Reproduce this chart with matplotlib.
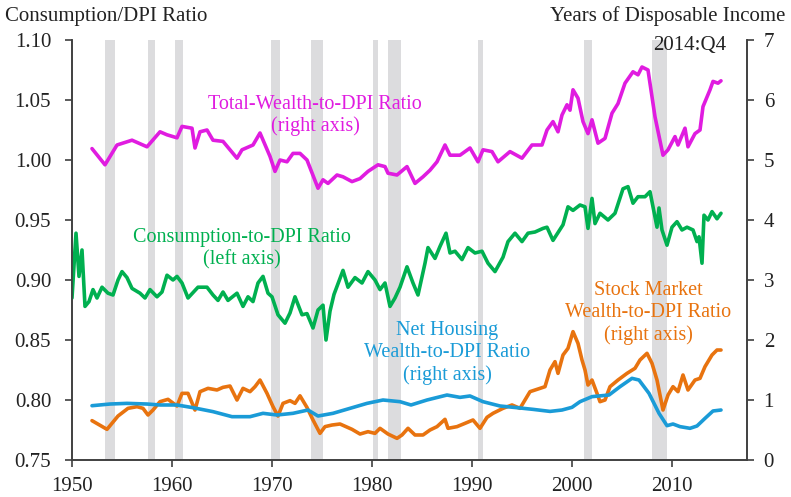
import matplotlib
matplotlib.use("Agg")
from matplotlib import pyplot as plt

plt.rcParams['font.family'] = ['Liberation Serif', 'DejaVu Serif']

# Recession periods (start, end) in fractional years
recessions = [(1953.3, 1954.3), (1957.6, 1958.3), (1960.3, 1961.1), (1969.9, 1970.8),
              (1973.9, 1975.1), (1980.1, 1980.6), (1981.6, 1982.9), (1990.6, 1991.1),
              (2001.2, 2002.0), (2008.0, 2009.5)]

# Consumption-to-DPI ratio (left axis)
cons_years = [1950.0, 1950.4, 1950.7, 1951.0, 1951.3, 1951.7, 1952.1, 1952.5, 1953.0, 1953.6,
              1954.1, 1954.6, 1955.0, 1955.5, 1956.0, 1956.8, 1957.3, 1957.8, 1958.5, 1959.0,
              1959.5, 1960.1, 1960.5, 1961.0, 1961.6, 1962.6, 1963.5, 1964.1, 1964.6, 1965.1,
              1965.6, 1966.5, 1967.1, 1967.6, 1968.1, 1968.6, 1969.1, 1969.6, 1970.0, 1970.6,
              1971.3, 1971.8, 1972.3, 1973.0, 1973.5, 1974.1, 1974.6, 1975.1, 1975.4, 1975.8,
              1976.2, 1977.1, 1977.6, 1978.3, 1979.0, 1979.6, 1980.3, 1980.8, 1981.3, 1981.8,
              1982.3, 1982.8, 1983.5, 1984.1, 1984.6, 1985.3, 1985.6, 1986.3, 1986.8, 1987.4,
              1987.8, 1988.3, 1989.0, 1989.6, 1990.3, 1991.0, 1991.6, 1992.3, 1993.1, 1993.6,
              1994.3, 1995.0, 1995.6, 1996.3, 1997.1, 1997.5, 1998.1, 1999.1, 1999.6, 2000.1,
              2000.8, 2001.3, 2001.6, 2002.0, 2002.3, 2002.8, 2003.6, 2004.3, 2005.1, 2005.6,
              2006.1, 2006.6, 2007.3, 2007.8, 2008.1, 2008.5, 2008.7, 2009.0, 2009.5, 2010.0,
              2010.5, 2011.0, 2011.5, 2012.1, 2012.5, 2012.7, 2013.0, 2013.2, 2013.6, 2014.0,
              2014.5, 2014.9]
cons_vals = [0.885, 0.939, 0.903, 0.925, 0.878, 0.882, 0.892, 0.885, 0.894, 0.889,
             0.8875, 0.900, 0.907, 0.902, 0.893, 0.889, 0.885, 0.892, 0.886, 0.890,
             0.904, 0.900, 0.903, 0.8975, 0.885, 0.894, 0.894, 0.8875, 0.883, 0.890,
             0.883, 0.889, 0.878, 0.886, 0.882, 0.8975, 0.903, 0.889, 0.886, 0.871,
             0.864, 0.8725, 0.886, 0.871, 0.872, 0.860, 0.875, 0.879, 0.850, 0.874,
             0.888, 0.908, 0.894, 0.902, 0.8975, 0.907, 0.900, 0.892, 0.8975, 0.878,
             0.885, 0.894, 0.911, 0.8975, 0.8875, 0.914, 0.927, 0.918, 0.928, 0.939,
             0.9225, 0.924, 0.917, 0.927, 0.9225, 0.924, 0.914, 0.907, 0.919, 0.932,
             0.939, 0.932, 0.939, 0.940, 0.943, 0.944, 0.933, 0.946, 0.961, 0.958,
             0.9625, 0.961, 0.943, 0.968, 0.947, 0.9556, 0.950, 0.9556, 0.976, 0.9778,
             0.964, 0.9694, 0.9694, 0.9736, 0.961, 0.944, 0.960, 0.9417, 0.929, 0.944,
             0.9486, 0.9417, 0.944, 0.9417, 0.932, 0.936, 0.914, 0.954, 0.950, 0.957,
             0.951, 0.9556]

# Total wealth-to-DPI ratio (right axis)
tw_years = [1952.0, 1953.3, 1954.5, 1956.0, 1957.5, 1958.8, 1959.5, 1960.5, 1961.0, 1962.0,
            1962.3, 1962.8, 1963.5, 1964.1, 1965.1, 1966.5, 1967.0, 1968.1, 1968.8, 1969.8,
            1970.3, 1970.8, 1971.5, 1972.1, 1972.8, 1973.5, 1974.6, 1975.1, 1975.6, 1976.5,
            1977.1, 1978.0, 1978.8, 1979.6, 1980.6, 1981.3, 1981.6, 1982.5, 1983.5, 1984.3,
            1985.1, 1985.8, 1986.5, 1987.3, 1987.8, 1988.8, 1989.8, 1990.6, 1991.1, 1992.0,
            1992.6, 1993.8, 1995.0, 1996.0, 1997.0, 1997.5, 1998.1, 1998.6, 1999.0, 1999.5,
            1999.8, 2000.1, 2000.6, 2001.1, 2001.6, 2002.0, 2002.6, 2003.3, 2004.0, 2004.6,
            2005.3, 2006.1, 2006.6, 2007.0, 2007.6, 2008.3, 2009.1, 2009.6, 2010.3, 2010.6,
            2011.3, 2011.6, 2012.3, 2012.8, 2013.1, 2013.8, 2014.1, 2014.6, 2014.9]
tw_vals = [5.19, 4.92, 5.25, 5.33, 5.22, 5.47, 5.42, 5.37, 5.56, 5.53,
           5.20, 5.47, 5.50, 5.33, 5.31, 5.03, 5.17, 5.25, 5.45, 5.06,
           4.81, 5.00, 4.97, 5.11, 5.11, 5.00, 4.53, 4.67, 4.61, 4.75,
           4.72, 4.64, 4.69, 4.81, 4.92, 4.89, 4.78, 4.75, 4.89, 4.61,
           4.72, 4.83, 4.97, 5.25, 5.08, 5.08, 5.20, 4.97, 5.17, 5.14,
           4.97, 5.14, 5.03, 5.25, 5.25, 5.50, 5.64, 5.47, 5.75, 5.92,
           5.83, 6.17, 6.03, 5.64, 5.44, 5.67, 5.28, 5.36, 5.78, 5.94,
           6.28, 6.47, 6.42, 6.55, 6.50, 5.72, 5.08, 5.17, 5.39, 5.25,
           5.53, 5.22, 5.44, 5.50, 5.89, 6.17, 6.31, 6.28, 6.32]

# Net housing wealth-to-DPI ratio (right axis)
house_years = [1952.0, 1953.8, 1955.5, 1957.5, 1958.8, 1960.5, 1962.1, 1964.1, 1966.0, 1967.8,
               1969.1, 1970.5, 1972.1, 1973.6, 1974.6, 1976.1, 1977.8, 1979.5, 1981.1, 1982.8,
               1983.9, 1985.5, 1987.5, 1988.8, 1989.8, 1991.1, 1992.8, 1994.5, 1996.1, 1997.8,
               1999.0, 2000.0, 2000.8, 2002.0, 2003.7, 2004.8, 2006.0, 2006.7, 2007.7, 2008.7,
               2009.5, 2010.1, 2010.8, 2011.8, 2012.5, 2013.3, 2014.1, 2014.9]
house_vals = [0.905, 0.933, 0.944, 0.933, 0.917, 0.917, 0.872, 0.806, 0.722, 0.722,
              0.778, 0.750, 0.778, 0.833, 0.733, 0.778, 0.861, 0.944, 1.000, 0.972,
              0.917, 1.000, 1.083, 1.044, 1.067, 0.972, 0.900, 0.872, 0.844, 0.810,
              0.833, 0.878, 0.972, 1.056, 1.083, 1.222, 1.361, 1.333, 1.111, 0.778,
              0.572, 0.600, 0.556, 0.528, 0.567, 0.694, 0.817, 0.833]

# Stock market wealth-to-DPI ratio (right axis)
stock_years = [1952.0, 1953.5, 1954.6, 1955.6, 1956.5, 1957.1, 1957.6, 1958.1, 1958.8, 1959.6,
               1960.5, 1961.0, 1961.6, 1962.3, 1962.8, 1963.6, 1964.5, 1965.1, 1965.8, 1966.5,
               1967.1, 1967.8, 1968.3, 1968.8, 1969.5, 1970.1, 1970.6, 1971.1, 1971.8, 1972.3,
               1972.8, 1973.5, 1974.1, 1974.8, 1975.3, 1976.0, 1976.8, 1978.0, 1978.8, 1979.6,
               1980.3, 1980.8, 1981.6, 1982.5, 1983.0, 1983.6, 1984.3, 1985.1, 1985.8, 1986.5,
               1987.3, 1987.6, 1988.5, 1989.3, 1990.1, 1990.8, 1991.5, 1992.1, 1993.1, 1994.0,
               1994.8, 1995.8, 1996.8, 1997.3, 1997.8, 1998.3, 1998.6, 1999.1, 1999.6, 2000.1,
               2000.6, 2001.0, 2001.3, 2001.6, 2002.0, 2002.5, 2002.8, 2003.3, 2003.8, 2004.6,
               2005.5, 2006.3, 2006.8, 2007.5, 2008.0, 2008.5, 2009.1, 2009.6, 2010.1, 2010.6,
               2011.1, 2011.6, 2012.3, 2012.8, 2013.3, 2014.0, 2014.5, 2014.9]
stock_vals = [0.656, 0.511, 0.733, 0.861, 0.889, 0.861, 0.750, 0.833, 0.972, 1.011,
              0.900, 1.111, 1.111, 0.833, 1.139, 1.194, 1.167, 1.211, 1.233, 1.000,
              1.194, 1.139, 1.222, 1.333, 1.111, 0.889, 0.733, 0.944, 0.989, 0.944,
              1.070, 0.875, 0.667, 0.444, 0.556, 0.583, 0.600, 0.511, 0.433, 0.472,
              0.444, 0.528, 0.433, 0.361, 0.417, 0.528, 0.417, 0.417, 0.500, 0.556,
              0.678, 0.528, 0.556, 0.611, 0.667, 0.528, 0.711, 0.778, 0.861, 0.917,
              0.861, 1.139, 1.194, 1.222, 1.500, 1.639, 1.444, 1.750, 1.861, 2.139,
              1.944, 1.667, 1.500, 1.250, 1.333, 1.111, 0.972, 1.000, 1.222, 1.333,
              1.444, 1.528, 1.667, 1.778, 1.611, 1.333, 0.833, 1.083, 1.222, 1.139,
              1.417, 1.167, 1.333, 1.361, 1.556, 1.750, 1.833, 1.833]

x_ticks = [1950, 1960, 1970, 1980, 1990, 2000, 2010]
left_ticks = [0.75, 0.80, 0.85, 0.90, 0.95, 1.00, 1.05, 1.10]
right_ticks = [0, 1, 2, 3, 4, 5, 6, 7]

magenta = '#e01ce0'
green = '#00b050'
blue = '#1a9bd7'
orange = '#e8730f'
spine_col = '#404040'
text_col = '#222222'

fig = plt.figure(figsize=(7.91, 4.97), dpi=100)
ax = fig.add_axes([72/791, 37/497, 675/791, 420/497])
ax2 = ax.twinx()

# Shaded recessions
for start, end in recessions:
    ax.axvspan(start, end, color='#dcdcde', lw=0, zorder=0)

line_kw = dict(lw=2.6, solid_joinstyle='round', solid_capstyle='round')
ax.plot(cons_years, cons_vals, color=green, zorder=3, **line_kw)
ax2.plot(stock_years, stock_vals, color=orange, **line_kw)
ax2.plot(house_years, house_vals, color=blue, **line_kw)
ax2.plot(tw_years, tw_vals, color=magenta, **line_kw)

ax.set_xlim(1950, 2017.5)
ax.set_ylim(0.75, 1.10)
ax2.set_ylim(0, 7)
ax.set_xticks(x_ticks)
ax.set_yticks(left_ticks)
ax.set_yticklabels(['%.2f' % v for v in left_ticks])
ax2.set_yticks(right_ticks)

for a in (ax, ax2):
    a.spines['top'].set_visible(False)
    for s in ('left', 'right', 'bottom'):
        a.spines[s].set_color(spine_col)
        a.spines[s].set_linewidth(1.2)
ax.tick_params(axis='y', direction='out', length=5, width=1.2, color=spine_col,
               labelsize=15, labelcolor=text_col, pad=10)
ax.tick_params(axis='x', direction='out', length=5, width=1.2, color=spine_col,
               labelsize=15, labelcolor=text_col, pad=7)
ax2.tick_params(axis='y', direction='out', length=5, width=1.2, color=spine_col,
                labelsize=15, labelcolor=text_col, pad=7)

# Axis titles and date stamp
fig.text(5/791, 1 - 16/497, 'Consumption/DPI Ratio', ha='left', va='center',
         fontsize=15, color=text_col)
fig.text(785/791, 1 - 16/497, 'Years of Disposable Income', ha='right', va='center',
         fontsize=15, color=text_col)
fig.text(690/791, 1 - 46/497, '2014:Q4', ha='center', va='center',
         fontsize=15, color=text_col)

# Series labels
ax.text(1974.3, 1.037, 'Total-Wealth-to-DPI Ratio\n(right axis)', color=magenta,
        ha='center', va='center', fontsize=14.5, multialignment='center')
ax.text(1967.0, 0.926, 'Consumption-to-DPI Ratio\n(left axis)', color=green,
        ha='center', va='center', fontsize=14.5, multialignment='center')
ax.text(1987.5, 0.839, 'Net Housing\nWealth-to-DPI Ratio\n(right axis)', color=blue,
        ha='center', va='center', fontsize=14.5, multialignment='center')
ax.text(2007.6, 0.8725, 'Stock Market\nWealth-to-DPI Ratio\n(right axis)', color=orange,
        ha='center', va='center', fontsize=14.5, multialignment='center')

plt.savefig('out.png', dpi=100)
